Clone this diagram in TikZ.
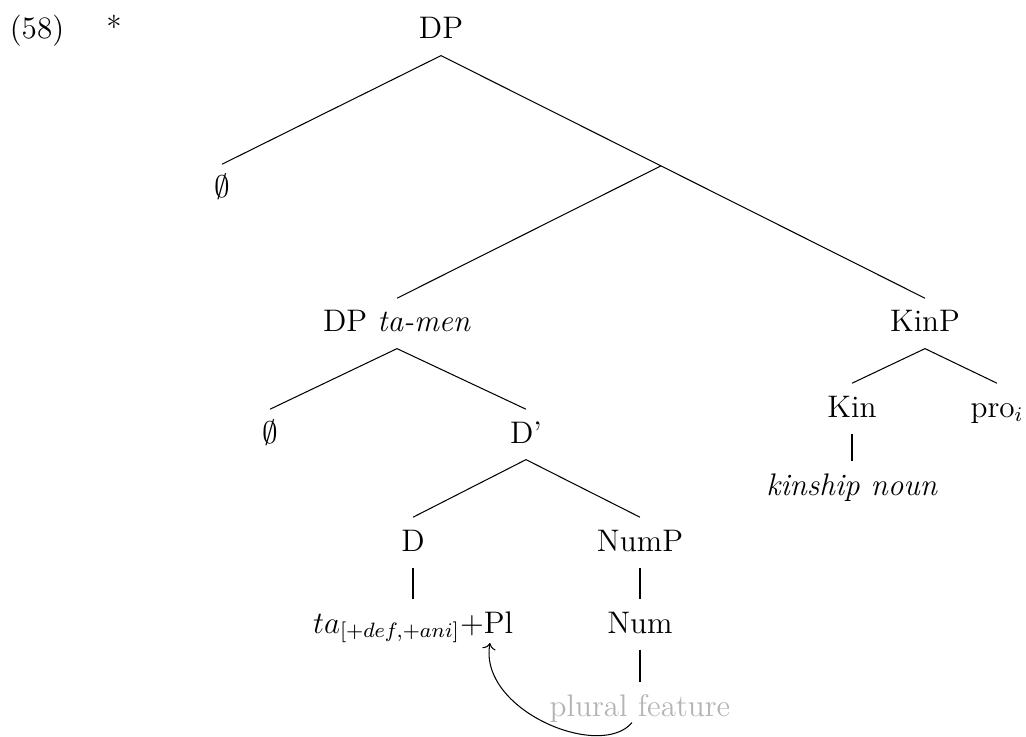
\documentclass[tikz,border=0pt]{standalone}
\usepackage{xcolor}
\usetikzlibrary{arrows.meta, calc}
\definecolor{featGray}{HTML}{B4B4B4}

\begin{document}
\begin{tikzpicture}[x=0.385pt,y=-0.385pt,font=\large]
    \tikzset{t/.style={anchor=base,inner xsep=1pt,inner ysep=4.6pt,text height=8.2pt,text depth=1.6pt}, feat/.style={t,text=featGray}}
    \useasboundingbox (0,0) rectangle (1026,737);
    \node[t] (ex) at (37,39) {(58)};
    \node[t] (star) at (114,39) {*};
    \node[t] (dp) at (441,39) {DP};
    \node[t] (null1) at (222,198) {$\emptyset$};
    \node[t] (dptm) at (397,332) {DP \textit{ta-men}};
    \node[t] (kinp) at (925,332) {KinP};
    \node[t] (null2) at (270,443) {$\emptyset$};
    \node[t] (dbar) at (526,443) {D'};
    \node[t] (d) at (413,551) {D};
    \node[t] (nump) at (640,551) {NumP};
    \node[t] (ta) at (413,633) {$ta_{[+def,+ani]}$+Pl};
    \node[t] (num) at (640,633) {Num};
    \node[feat] (pf) at (640,716) {plural feature};
    \node[t] (kin) at (852,417) {Kin};
    \node[t] (pro) at (997,417) {pro$_i$};
    \node[t] (kn) at (852,495) {\textit{kinship noun}};
    \coordinate (x1) at ($(dp.south)!0.4545!(kinp.north)$);
    \coordinate (pl) at ([shift={(77,10)}]ta.base);
    \draw (dp.south) -- (null1.north);
    \draw (dp.south) -- (kinp.north);
    \draw (x1) -- (dptm.north);
    \draw (dptm.south) -- (null2.north);
    \draw (dptm.south) -- (dbar.north);
    \draw (dbar.south) -- (d.north);
    \draw (dbar.south) -- (nump.north);
    \draw (d.south) -- (ta.north);
    \draw (nump.south) -- (num.north);
    \draw (num.south) -- (pf.north);
    \draw (kinp.south) -- (kin.north);
    \draw (kinp.south) -- (pro.north);
    \draw (kin.south) -- (kn.north);
    \draw[->] ([shift={(-8,-10)}]pf.south) .. controls +(-32,38) and +(-12,67) .. (pl);
\end{tikzpicture}
\end{document}
